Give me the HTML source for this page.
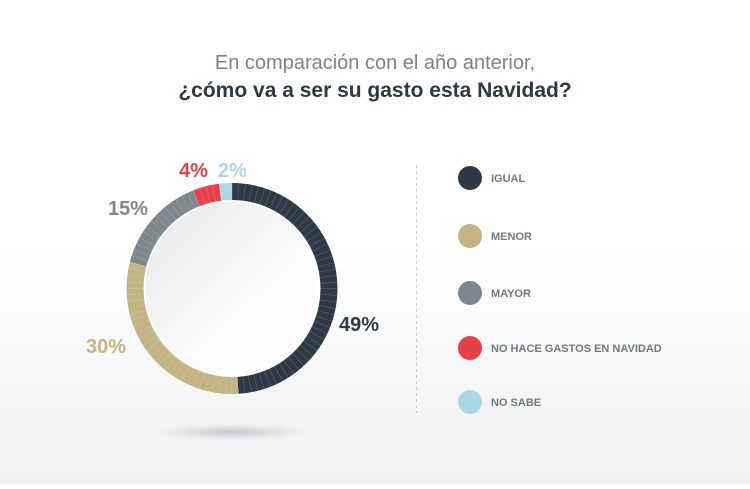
<!DOCTYPE html>
<html><head><style>
body{margin:0;width:750px;height:484px;overflow:hidden;font-family:"Liberation Sans",sans-serif;background:linear-gradient(#fff 0%,#fff 50%,#eef0f1 100%);}
</style></head><body>
<svg width="750" height="484" xmlns="http://www.w3.org/2000/svg">
<defs>
<radialGradient id="sh" cx="0.5" cy="0.5" r="0.5"><stop offset="0" stop-color="#c9cccf"/><stop offset="1" stop-color="#c9cccf" stop-opacity="0"/></radialGradient>
<linearGradient id="disc" x1="0" y1="0" x2="1" y2="1"><stop offset="0" stop-color="#e6e7e8"/><stop offset="0.6" stop-color="#fbfbfb"/><stop offset="1" stop-color="#ffffff"/></linearGradient>
</defs>
<text x="375" y="69" text-anchor="middle" font-size="20" fill="#7a848b">En comparación con el año anterior,</text>
<text x="375" y="97" text-anchor="middle" font-size="21" font-weight="bold" fill="#2d3a45">¿cómo va a ser su gasto esta Navidad?</text>
<ellipse cx="232" cy="432" rx="80" ry="8" fill="url(#sh)"/>
<g transform="translate(232,288.5) rotate(-90)">
<circle r="96.5" fill="none" stroke="#2d3a45" stroke-width="18" stroke-dasharray="297.1 606.3" stroke-dashoffset="0"/>
<circle r="96.5" fill="none" stroke="#c4b383" stroke-width="18" stroke-dasharray="181.9 606.3" stroke-dashoffset="-297.1"/>
<circle r="96.5" fill="none" stroke="#7d878d" stroke-width="18" stroke-dasharray="90.9 606.3" stroke-dashoffset="-479"/>
<circle r="96.5" fill="none" stroke="#e8404a" stroke-width="18" stroke-dasharray="24.3 606.3" stroke-dashoffset="-569.9"/>
<circle r="96.5" fill="none" stroke="#a9d9e6" stroke-width="18" stroke-dasharray="12.1 606.3" stroke-dashoffset="-594.2"/>
<circle r="96.5" fill="none" stroke="#ffffff" stroke-opacity="0.2" stroke-width="18" stroke-dasharray="0.6 5.46"/>
<circle r="87.5" fill="url(#disc)" stroke="#ffffff" stroke-width="2" transform="rotate(90)"/>
</g>
<g font-size="20" font-weight="bold">
<text x="339" y="331" fill="#2d3a45">49%</text>
<text x="86" y="353" fill="#c4b383">30%</text>
<text x="108" y="215" fill="#7d878d">15%</text>
<text x="179" y="177" fill="#e8404a">4%</text>
<text x="218" y="177" fill="#a9d9e6">2%</text>
</g>
<line x1="416.5" y1="165" x2="416.5" y2="413" stroke="#c8cbce" stroke-dasharray="3 3"/>
<g font-size="11" font-weight="bold" fill="#6f7a82">
<circle cx="470" cy="178" r="12" fill="#2d3a45"/><text x="491" y="182">IGUAL</text>
<circle cx="470" cy="236" r="12" fill="#c4b383"/><text x="491" y="240">MENOR</text>
<circle cx="470" cy="293" r="12" fill="#7d878d"/><text x="491" y="297">MAYOR</text>
<circle cx="470" cy="348" r="12" fill="#e8404a"/><text x="491" y="352">NO HACE GASTOS EN NAVIDAD</text>
<circle cx="470" cy="402" r="12" fill="#a9d9e6"/><text x="491" y="406">NO SABE</text>
</g>
</svg>
</body></html>
